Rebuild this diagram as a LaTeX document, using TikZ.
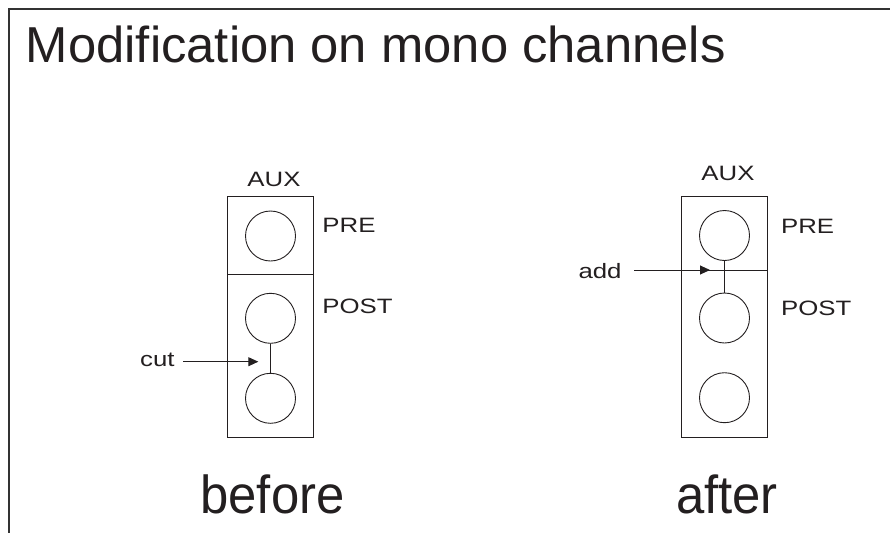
\documentclass[tikz,border=0pt]{standalone}
\usepackage{fontspec}
\setmainfont{Liberation Sans}
\newfontfamily\titlefont[FakeStretch=1.005]{Liberation Sans}
\newfontfamily\tagfont[FakeStretch=1.24]{Liberation Sans}
\newfontfamily\stagefont[FakeStretch=0.95]{Liberation Sans}
\usetikzlibrary{arrows.meta, positioning}
\definecolor{Ink}{HTML}{231F20}

\begin{document}
\begin{tikzpicture}[x=1pt, y=-1pt, line width=0.9pt, color=Ink,
    slot/.style={draw, rectangle, minimum width=86pt, inner sep=0pt},
    knob/.style={draw, circle, minimum size=50pt, inner sep=0pt},
    tag/.style={inner sep=0pt, font=\tagfont\fontsize{20.8}{24}\selectfont},
    stage/.style={inner sep=0pt, font=\stagefont\fontsize{53.5}{60}\selectfont},
    pointer/.style={-{Triangle[length=10pt, width=9pt]}}]
    \useasboundingbox (0,0) rectangle (890,533);
    % Frame and title
    \draw[line width=2pt, black!80] (890,9) -- (9,9) -- (9,533);
    \node[anchor=base west, inner sep=0pt, font=\titlefont\fontsize{50.5}{60}\selectfont] (title) at (25.5,62) {Modification on mono channels};
    % Before: channel strip
    \node[slot, minimum height=78.3pt] (lpre) at (270.5,235.15) {};
    \node[slot, minimum height=163pt] (lpost) at (270.5,355.8) {};
    \node[knob] (lk1) at (270.5,236) {};
    \node[knob] (lk2) at (270.5,318.3) {};
    \node[knob] (lk3) at (270.5,398.3) {};
    \draw (lk2) -- (lk3);
    % After: channel strip
    \node[slot, minimum height=74pt] (rpre) at (724.5,233) {};
    \node[slot, minimum height=167.3pt] (rpost) at (724.5,353.65) {};
    \node[knob] (rk1) at (724.5,235.5) {};
    \node[knob] (rk2) at (724.5,318) {};
    \node[knob] (rk3) at (724.5,397.7) {};
    \draw (rk1) -- (rk2);
    % Labels
    \node[tag, anchor=base] (laux) at (274,186.7) {AUX};
    \node[tag, anchor=base west] (lprelabel) at (322,232.7) {PRE};
    \node[tag, anchor=base west] (lpostlabel) at (322,313.3) {POST};
    \node[tag, anchor=base] (raux) at (728,180) {AUX};
    \node[tag, anchor=base west] (rprelabel) at (780.7,233.3) {PRE};
    \node[tag, anchor=base west] (rpostlabel) at (780.7,315) {POST};
    % Arrows
    \node[tag, inner xsep=8pt, anchor=base east] (cut) at (183,366.7) {cut};
    \coordinate (cuthead) at (258.3,361.7);
    \draw[pointer] (cut.east |- cuthead) -- (cuthead);
    \node[tag, inner xsep=12pt, anchor=base east] (add) at (634,278.3) {add};
    \coordinate (addhead) at (710,270);
    \draw[pointer] (add.east |- addhead) -- (addhead);
    % Captions
    \node[stage, anchor=base] (before) at (272.5,513.3) {before};
    \node[stage, anchor=base] (after) at (726.9,513.3) {after};
\end{tikzpicture}
\end{document}
